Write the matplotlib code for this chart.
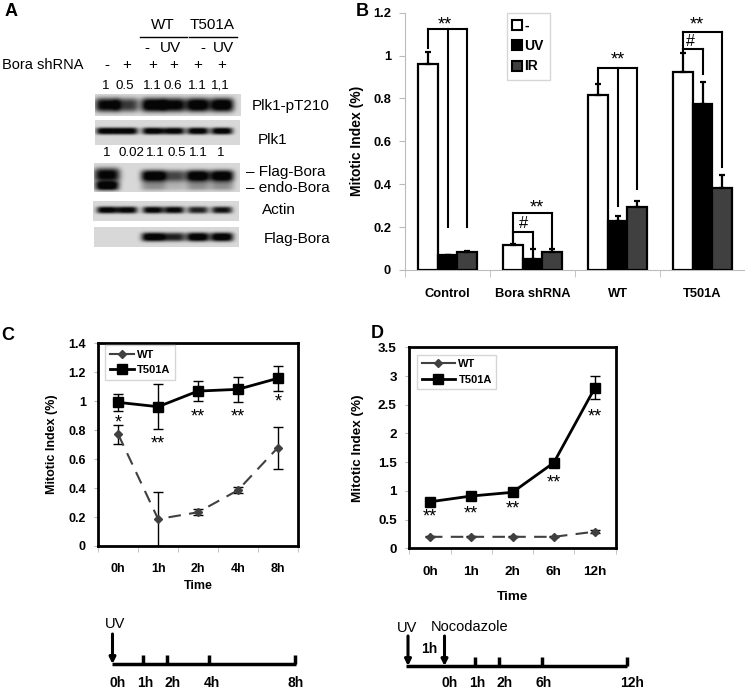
import numpy as np
import matplotlib
matplotlib.use('Agg')
import matplotlib.pyplot as plt
from matplotlib.lines import Line2D
from matplotlib.ticker import FuncFormatter, MultipleLocator

plt.rcParams['font.family'] = ['Liberation Sans', 'DejaVu Sans']

W, H = 745, 689

# --- panel A: blot lanes ---
lane_signs = ['-', '+', '+', '+', '+', '+']
pt210_quant = ['1', '0.5', '1.1', '0.6', '1.1', '1,1']
bora_quant = ['1', '0.02', '1.1', '0.5', '1.1', '1']
pt210_band = [0.9, 0.65, 1.0, 0.92, 1.0, 1.0]
plk1_band = [0.95, 0.95, 0.95, 0.92, 0.95, 0.95]
flag_bora_band = [0.0, 0.0, 1.0, 0.6, 1.0, 1.0]
endo_bora_band = [1.0, 0.0, 0.3, 0.15, 0.3, 0.3]
endo_smear_band = [0.9, 0.0, 0.0, 0.0, 0.0, 0.0]
actin_band = [0.92, 0.9, 0.9, 0.88, 0.75, 0.82]
flag_only_band = [0.0, 0.0, 1.0, 0.75, 1.0, 1.0]

# --- panel B ---
groups = ['Control', 'Bora shRNA', 'WT', 'T501A']
treat = ['-', 'UV', 'IR']
mi_none = [0.96, 0.117, 0.815, 0.925]
mi_uv = [0.068, 0.051, 0.23, 0.774]
mi_ir = [0.085, 0.085, 0.295, 0.381]
err_none = [0.055, 0.005, 0.053, 0.085]
err_uv = [0.004, 0.045, 0.023, 0.104]
err_ir = [0.004, 0.011, 0.028, 0.062]

# --- panel C ---
c_times = ['0h', '1h', '2h', '4h', '8h']
c_wt = [0.771, 0.186, 0.233, 0.385, 0.679]
c_wt_err = [0.065, 0.185, 0.02, 0.022, 0.145]
c_t501a = [0.992, 0.962, 1.07, 1.082, 1.158]
c_t501a_err = [0.057, 0.155, 0.07, 0.087, 0.085]
c_sig = ['*', '**', '**', '**', '*']
c_sig_y = [0.885, 0.746, 0.93, 0.93, 1.03]

# --- panel D ---
d_times = ['0h', '1h', '2h', '6h', '12h']
d_wt = [0.2, 0.2, 0.2, 0.2, 0.29]
d_wt_err = [0.01, 0.01, 0.01, 0.01, 0.02]
d_t501a = [0.81, 0.91, 0.975, 1.49, 2.8]
d_t501a_err = [0.03, 0.03, 0.03, 0.04, 0.2]
d_sig = ['**', '**', '**', '**', '**']
d_sig_y = [0.64, 0.70, 0.78, 1.23, 2.39]

fig = plt.figure(figsize=(W / 100, H / 100), dpi=100)
bg = fig.add_axes([0, 0, 1, 1])
bg.set_xlim(0, W)
bg.set_ylim(H, 0)
bg.set_autoscale_on(False)
bg.axis('off')


def frac(x0, y0, x1, y1):
    return [x0 / W, 1 - y1 / H, (x1 - x0) / W, (y1 - y0) / H]


lane_x = [107, 127, 153, 174, 198, 222]


def blot(x0, x1, y0, y1, bands, level=0.85):
    xs = np.linspace(x0, x1, int((x1 - x0) * 4))
    ys = np.linspace(y0, y1, int((y1 - y0) * 4))
    X, Y = np.meshgrid(xs, ys)
    dark = np.zeros(X.shape)
    for levels, cy, h, w in bands:
        for cx, lv in zip(lane_x, levels):
            dark += lv * np.exp(-np.abs((X - cx) / (w / 2)) ** 4) * np.exp(-np.abs((Y - cy) / (h / 2)) ** 3)
    img = level * (1 - np.clip(dark * 1.15, 0, 0.97))
    bg.imshow(img, extent=(x0, x1, y1, y0), cmap='gray', vmin=0, vmax=1,
              aspect='auto', interpolation='bilinear')


blot(95, 241, 94, 116, [(pt210_band, 105, 14, 24)])
blot(95, 240, 120, 145, [(plk1_band, 131, 7, 22)])
blot(94, 240, 163, 192, [(flag_bora_band, 176, 12, 24), (endo_bora_band, 186, 9, 24),
                          (endo_smear_band, 175, 14, 26)])
blot(93, 239, 201, 221, [(actin_band, 210, 7, 21)])
blot(94, 239, 227, 247, [(flag_only_band, 237, 9, 23)])

bg.set_xlim(0, W)
bg.set_ylim(H, 0)

reg = dict(fontsize=9.6, ha='center', va='center')
bg.text(11, 11, 'A', fontsize=13, fontweight='bold', ha='center', va='center')
bg.text(163, 25, 'WT', fontsize=11, ha='center', va='center')
bg.text(212, 25, 'T501A', fontsize=11, ha='center', va='center')
bg.plot([140, 187], [37, 37], color='black', lw=1)
bg.plot([189, 237], [37, 37], color='black', lw=1)
for xx, s in zip([147, 170, 203, 223], ['-', 'UV', '-', 'UV']):
    bg.text(xx, 48, s, fontsize=11, ha='center', va='center')
bg.text(2, 65, 'Bora shRNA', fontsize=10.5, ha='left', va='center')
for xx, s in zip(lane_x, lane_signs):
    bg.text(xx, 65, s, fontsize=11, ha='center', va='center')
for xx, s in zip([106, 125, 152, 173, 197, 220], pt210_quant):
    bg.text(xx, 86, s, **reg)
for xx, s in zip([107, 131, 155, 176.5, 198.5, 221], bora_quant):
    bg.text(xx, 153, s, **reg)
bg.text(252, 106, 'Plk1-pT210', fontsize=11, ha='left', va='center')
bg.text(258, 140, 'Plk1', fontsize=11, ha='left', va='center')
bg.text(246, 172, '– Flag-Bora', fontsize=11, ha='left', va='center')
bg.text(246, 188, '– endo-Bora', fontsize=11, ha='left', va='center')
bg.text(262, 210, 'Actin', fontsize=11, ha='left', va='center')
bg.text(264, 239, 'Flag-Bora', fontsize=11, ha='left', va='center')

bg.text(362, 11, 'B', fontsize=13, fontweight='bold', ha='center', va='center')
bg.text(8, 336, 'C', fontsize=13, fontweight='bold', ha='center', va='center')
bg.text(377, 333, 'D', fontsize=13, fontweight='bold', ha='center', va='center')


def bold_ticks(ax, size):
    for lab in ax.get_xticklabels() + ax.get_yticklabels():
        lab.set_fontweight('bold')
        lab.set_fontsize(size)


def mark(ax, s, xy, size=13, dy=-4):
    ax.annotate(s, xy, xytext=(0, dy), textcoords='offset points', ha='center',
                va='center', fontsize=size, zorder=6)


fmt = FuncFormatter(lambda v, _: f'{v:g}')

# ---------------- panel B ----------------
axB = fig.add_axes(frac(405, 12.7, 745, 270))
x = np.arange(len(groups))
bw = 0.23
for off, vals, errs, col in [(-bw, mi_none, err_none, 'white'),
                             (0, mi_uv, err_uv, 'black'),
                             (bw, mi_ir, err_ir, '#404040')]:
    axB.bar(x + off, vals, bw, color=col, edgecolor='black', linewidth=1.6, zorder=3)
    axB.errorbar(x + off, vals, yerr=[np.zeros(len(vals)), errs], fmt='none', ecolor='black',
                 elinewidth=1.6, capsize=2.5, capthick=1.6, zorder=4)
axB.set_xlim(-0.5, 3.5)
axB.set_ylim(0, 1.2)
axB.yaxis.set_major_locator(MultipleLocator(0.2))
axB.yaxis.set_major_formatter(fmt)
axB.set_xticks(x)
axB.set_xticklabels(groups)
axB.set_xticks(np.arange(-0.5, 4, 1), minor=True)
axB.tick_params(axis='x', which='major', length=0, pad=13)
axB.tick_params(axis='x', which='minor', length=5, color='#bbbbbb')
axB.tick_params(axis='y', length=4, color='#bbbbbb', pad=6)
for s in ['top', 'right']:
    axB.spines[s].set_visible(False)
for s in ['left', 'bottom']:
    axB.spines[s].set_color('#bbbbbb')
bold_ticks(axB, 9.3)
axB.set_ylabel('Mitotic Index (%)', fontsize=10, fontweight='bold')
axB.yaxis.set_label_coords(-0.12, 0.5)


def bracket(ax, xl, yl, ends, ytop):
    ax.plot([xl, xl], [yl, ytop], color='black', lw=1.5, zorder=5)
    ax.plot([xl, max(e[0] for e in ends)], [ytop, ytop], color='black', lw=1.5, zorder=5)
    for xe, ye in ends:
        ax.plot([xe, xe], [ytop, ye], color='black', lw=1.5, zorder=5)


bracket(axB, -bw, 1.035, [(0, 0.2), (bw, 0.2)], 1.124)
bracket(axB, 1 - bw, 0.125, [(1 + bw, 0.1)], 0.267)
bracket(axB, 1 - bw, 0.125, [(1, 0.1)], 0.179)
bracket(axB, 2 - bw, 0.875, [(2, 0.30), (2 + bw, 0.38)], 0.944)
bracket(axB, 3 - bw, 1.015, [(3 + bw, 0.48)], 1.111)
bracket(axB, 3 - bw, 1.015, [(3, 0.914)], 1.03)
mark(axB, '**', (-0.03, 1.17))
mark(axB, '**', (1.05, 0.315))
mark(axB, '#', (0.89, 0.215), 12, 0)
mark(axB, '**', (2.0, 1.005))
mark(axB, '#', (2.86, 1.068), 11.5, 0)
mark(axB, '**', (2.93, 1.17))

hB = [Line2D([], [], marker='s', ls='none', ms=6.5, mfc=c, mec='black', mew=1.5)
      for c in ['white', 'black', '#404040']]
axB.legend(hB, treat, loc='upper left', bbox_to_anchor=(0.30, 1.0), frameon=True,
           fancybox=False, edgecolor='#cccccc', handlelength=0.6, handletextpad=0.2,
           labelspacing=0.45, borderpad=0.45, borderaxespad=0,
           prop=dict(weight='bold', size=10))


def line_axes(ax, ticks, yl, ystep, tpad, lpad, size):
    ax.set_xlim(-0.5, len(ticks) - 0.5)
    ax.set_ylim(*yl)
    ax.yaxis.set_major_locator(MultipleLocator(ystep))
    ax.yaxis.set_major_formatter(fmt)
    ax.set_xticks(np.arange(len(ticks)))
    ax.set_xticklabels(ticks)
    ax.set_xticks(np.arange(-0.5, len(ticks), 1), minor=True)
    ax.tick_params(axis='x', which='major', length=0, pad=tpad)
    ax.tick_params(axis='x', which='minor', length=4, color='#bbbbbb')
    ax.tick_params(axis='y', length=3, color='#bbbbbb', pad=6)
    for s in ax.spines.values():
        s.set_linewidth(2)
    bold_ticks(ax, size)
    ax.set_xlabel('Time', fontsize=size, fontweight='bold', labelpad=lpad)
    ax.set_ylabel('Mitotic Index (%)', fontsize=size, fontweight='bold')


wt_style = dict(color='#404040', ls=(0, (6, 4)), lw=1.5, marker='D', ms=4.5,
                mfc='#404040', mec='#404040')
mut_style = dict(color='black', lw=2, marker='s', ms=6.5, mfc='black', mec='black')
eb = dict(ecolor='black', elinewidth=1, capsize=3.5, capthick=1)

# ---------------- panel C ----------------
axC = fig.add_axes(frac(98.3, 343.3, 297.7, 546))
xc = np.arange(len(c_times))
axC.errorbar(xc, c_wt, yerr=c_wt_err, **wt_style, **eb)
axC.errorbar(xc, c_t501a, yerr=c_t501a_err, **mut_style, **eb)
for xi, s, yy in zip(xc, c_sig, c_sig_y):
    mark(axC, s, (xi, yy))
line_axes(axC, c_times, (0, 1.4), 0.2, 12, 4, 9)
axC.yaxis.set_label_coords(-0.2, 0.5)
hC = [Line2D([], [], color='#404040', lw=1.5, marker='D', ms=4.5),
      Line2D([], [], color='black', lw=2, marker='s', ms=6.5)]
axC.legend(hC, ['WT', 'T501A'], loc='upper left', bbox_to_anchor=(0.034, 0.99), fancybox=False,
           edgecolor='#cccccc', handlelength=2.2, handletextpad=0.3, labelspacing=0.5,
           borderpad=0.4, borderaxespad=0, prop=dict(weight='bold', size=8))

# ---------------- panel D ----------------
axD = fig.add_axes(frac(409.3, 347.3, 615.7, 548.3))
xd = np.arange(len(d_times))
axD.errorbar(xd, d_wt, yerr=d_wt_err, **wt_style, **eb)
axD.errorbar(xd, d_t501a, yerr=d_t501a_err, **mut_style, **eb)
for xi, s, yy in zip(xd, d_sig, d_sig_y):
    mark(axD, s, (xi, yy))
line_axes(axD, d_times, (0, 3.5), 0.5, 13, 9, 9.7)
axD.yaxis.set_label_coords(-0.22, 0.5)
hD = [Line2D([], [], color='#404040', lw=1.5, marker='D', ms=4.5),
      Line2D([], [], color='black', lw=2, marker='s', ms=6.5)]
axD.legend(hD, ['WT', 'T501A'], loc='upper left', bbox_to_anchor=(0.039, 0.962), fancybox=False,
           edgecolor='#cccccc', handlelength=3.0, handletextpad=0.3, labelspacing=0.5,
           borderpad=0.4, borderaxespad=0, prop=dict(weight='bold', size=8))

# ---------------- timelines ----------------
arrow = dict(arrowstyle='-|>', lw=2.2, color='black', mutation_scale=9, shrinkA=0, shrinkB=0)


def timeline(x0, x1, y, ticks, arrows, labels):
    bg.plot([x0, x1], [y, y], color='black', lw=2.5, solid_capstyle='butt')
    for tx in ticks:
        bg.plot([tx, tx], [y, y - 9], color='black', lw=2.5, solid_capstyle='butt')
    for ax_ in arrows:
        bg.annotate('', xy=(ax_, y), xytext=(ax_, y - 30), arrowprops=arrow)
    for lx, s in labels:
        bg.text(lx, 683, s, fontsize=10, fontweight='bold', ha='center', va='center')


timeline(112, 296, 664, [143, 167, 209, 295], [112.5],
         [(118, '0h'), (145, '1h'), (173, '2h'), (212, '4h'), (296, '8h')])
bg.text(115, 624, 'UV', fontsize=10.5, ha='center', va='center')

timeline(406, 627, 666, [475, 499, 542, 626.5], [408, 444.5],
         [(450, '0h'), (477, '1h'), (505, '2h'), (544, '6h'), (632, '12h')])
bg.text(407, 628, 'UV', fontsize=10.5, ha='center', va='center')
bg.text(470, 627, 'Nocodazole', fontsize=10.5, ha='center', va='center')
bg.text(429, 649, '1h', fontsize=10, fontweight='bold', ha='center', va='center')

fig.savefig('out.png', dpi=100)
